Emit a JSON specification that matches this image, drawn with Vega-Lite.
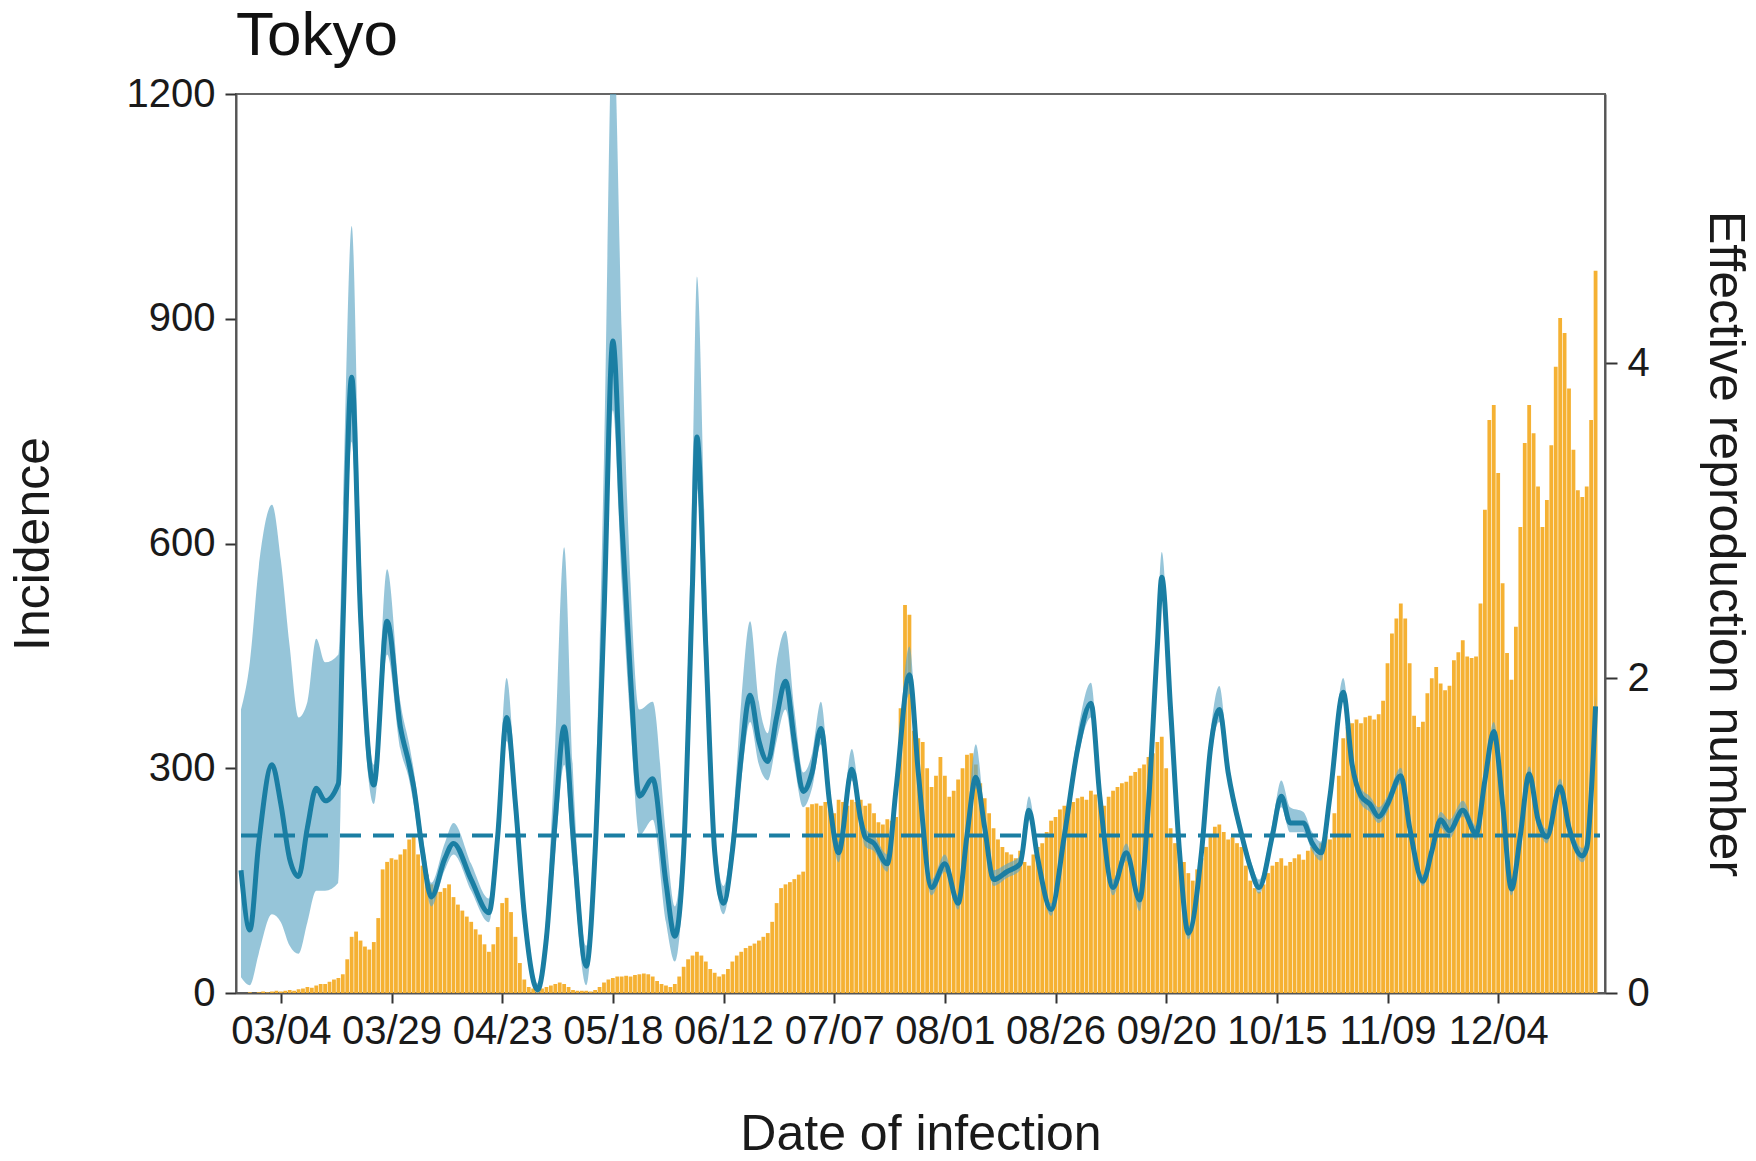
{
"$schema": "https://vega.github.io/schema/vega-lite/v6.json",
"width": 1369, "height": 899,
"autosize": {"type": "none"},
"padding": {"left": 236, "top": 94, "right": 151, "bottom": 168},
"background": "white",
"title": {"text": "Tokyo", "anchor": "start", "frame": "group", "fontSize": 62, "fontWeight": "normal", "font": "Liberation Sans", "color": "#111111", "baseline": "alphabetic", "offset": 14, "dy": 57},
"config": {
  "font": "Liberation Sans",
  "view": {"stroke": "#666666", "strokeWidth": 2},
  "axis": {"labelFont": "Liberation Sans", "titleFont": "Liberation Sans", "labelFontSize": 40, "titleFontSize": 50, "titleFontWeight": "normal", "labelColor": "#1a1a1a", "titleColor": "#1a1a1a", "domainColor": "#555555", "domainWidth": 2, "tickColor": "#333333", "tickWidth": 2, "grid": false, "labelOverlap": false, "labelFlush": false}
},
"datasets": {
"inc": [
{"date":"2020-02-24","cases":0},{"date":"2020-02-25","cases":0},{"date":"2020-02-26","cases":1},{"date":"2020-02-27","cases":0},{"date":"2020-02-28","cases":1},{"date":"2020-02-29","cases":2},
{"date":"2020-03-01","cases":1},{"date":"2020-03-02","cases":2},{"date":"2020-03-03","cases":3},{"date":"2020-03-04","cases":2},{"date":"2020-03-05","cases":3},{"date":"2020-03-06","cases":4},{"date":"2020-03-07","cases":3},{"date":"2020-03-08","cases":5},{"date":"2020-03-09","cases":6},{"date":"2020-03-10","cases":8},{"date":"2020-03-11","cases":7},{"date":"2020-03-12","cases":10},{"date":"2020-03-13","cases":12},{"date":"2020-03-14","cases":12},{"date":"2020-03-15","cases":15},{"date":"2020-03-16","cases":18},{"date":"2020-03-17","cases":20},{"date":"2020-03-18","cases":25},{"date":"2020-03-19","cases":45},{"date":"2020-03-20","cases":75},{"date":"2020-03-21","cases":82},{"date":"2020-03-22","cases":70},{"date":"2020-03-23","cases":62},{"date":"2020-03-24","cases":58},{"date":"2020-03-25","cases":68},{"date":"2020-03-26","cases":100},{"date":"2020-03-27","cases":165},{"date":"2020-03-28","cases":175},{"date":"2020-03-29","cases":180},{"date":"2020-03-30","cases":178},{"date":"2020-03-31","cases":185},
{"date":"2020-04-01","cases":192},{"date":"2020-04-02","cases":205},{"date":"2020-04-03","cases":210},{"date":"2020-04-04","cases":185},{"date":"2020-04-05","cases":170},{"date":"2020-04-06","cases":158},{"date":"2020-04-07","cases":145},{"date":"2020-04-08","cases":140},{"date":"2020-04-09","cases":135},{"date":"2020-04-10","cases":140},{"date":"2020-04-11","cases":145},{"date":"2020-04-12","cases":128},{"date":"2020-04-13","cases":118},{"date":"2020-04-14","cases":110},{"date":"2020-04-15","cases":102},{"date":"2020-04-16","cases":95},{"date":"2020-04-17","cases":85},{"date":"2020-04-18","cases":78},{"date":"2020-04-19","cases":65},{"date":"2020-04-20","cases":55},{"date":"2020-04-21","cases":65},{"date":"2020-04-22","cases":88},{"date":"2020-04-23","cases":120},{"date":"2020-04-24","cases":127},{"date":"2020-04-25","cases":108},{"date":"2020-04-26","cases":75},{"date":"2020-04-27","cases":40},{"date":"2020-04-28","cases":18},{"date":"2020-04-29","cases":8},{"date":"2020-04-30","cases":6},
{"date":"2020-05-01","cases":5},{"date":"2020-05-02","cases":6},{"date":"2020-05-03","cases":8},{"date":"2020-05-04","cases":10},{"date":"2020-05-05","cases":12},{"date":"2020-05-06","cases":14},{"date":"2020-05-07","cases":12},{"date":"2020-05-08","cases":8},{"date":"2020-05-09","cases":4},{"date":"2020-05-10","cases":3},{"date":"2020-05-11","cases":3},{"date":"2020-05-12","cases":3},{"date":"2020-05-13","cases":2},{"date":"2020-05-14","cases":4},{"date":"2020-05-15","cases":8},{"date":"2020-05-16","cases":14},{"date":"2020-05-17","cases":18},{"date":"2020-05-18","cases":20},{"date":"2020-05-19","cases":22},{"date":"2020-05-20","cases":22},{"date":"2020-05-21","cases":23},{"date":"2020-05-22","cases":22},{"date":"2020-05-23","cases":24},{"date":"2020-05-24","cases":25},{"date":"2020-05-25","cases":26},{"date":"2020-05-26","cases":25},{"date":"2020-05-27","cases":22},{"date":"2020-05-28","cases":16},{"date":"2020-05-29","cases":12},{"date":"2020-05-30","cases":10},{"date":"2020-05-31","cases":8},
{"date":"2020-06-01","cases":12},{"date":"2020-06-02","cases":22},{"date":"2020-06-03","cases":35},{"date":"2020-06-04","cases":45},{"date":"2020-06-05","cases":50},{"date":"2020-06-06","cases":55},{"date":"2020-06-07","cases":50},{"date":"2020-06-08","cases":42},{"date":"2020-06-09","cases":32},{"date":"2020-06-10","cases":27},{"date":"2020-06-11","cases":22},{"date":"2020-06-12","cases":25},{"date":"2020-06-13","cases":32},{"date":"2020-06-14","cases":42},{"date":"2020-06-15","cases":50},{"date":"2020-06-16","cases":55},{"date":"2020-06-17","cases":60},{"date":"2020-06-18","cases":63},{"date":"2020-06-19","cases":66},{"date":"2020-06-20","cases":70},{"date":"2020-06-21","cases":75},{"date":"2020-06-22","cases":80},{"date":"2020-06-23","cases":95},{"date":"2020-06-24","cases":120},{"date":"2020-06-25","cases":140},{"date":"2020-06-26","cases":145},{"date":"2020-06-27","cases":148},{"date":"2020-06-28","cases":152},{"date":"2020-06-29","cases":158},{"date":"2020-06-30","cases":162},
{"date":"2020-07-01","cases":248},{"date":"2020-07-02","cases":252},{"date":"2020-07-03","cases":253},{"date":"2020-07-04","cases":250},{"date":"2020-07-05","cases":255},{"date":"2020-07-06","cases":245},{"date":"2020-07-07","cases":240},{"date":"2020-07-08","cases":258},{"date":"2020-07-09","cases":255},{"date":"2020-07-10","cases":250},{"date":"2020-07-11","cases":258},{"date":"2020-07-12","cases":255},{"date":"2020-07-13","cases":258},{"date":"2020-07-14","cases":250},{"date":"2020-07-15","cases":253},{"date":"2020-07-16","cases":240},{"date":"2020-07-17","cases":228},{"date":"2020-07-18","cases":225},{"date":"2020-07-19","cases":232},{"date":"2020-07-20","cases":230},{"date":"2020-07-21","cases":235},{"date":"2020-07-22","cases":380},{"date":"2020-07-23","cases":518},{"date":"2020-07-24","cases":505},{"date":"2020-07-25","cases":350},{"date":"2020-07-26","cases":340},{"date":"2020-07-27","cases":335},{"date":"2020-07-28","cases":300},{"date":"2020-07-29","cases":275},{"date":"2020-07-30","cases":290},{"date":"2020-07-31","cases":315},
{"date":"2020-08-01","cases":290},{"date":"2020-08-02","cases":262},{"date":"2020-08-03","cases":270},{"date":"2020-08-04","cases":285},{"date":"2020-08-05","cases":300},{"date":"2020-08-06","cases":318},{"date":"2020-08-07","cases":320},{"date":"2020-08-08","cases":305},{"date":"2020-08-09","cases":280},{"date":"2020-08-10","cases":260},{"date":"2020-08-11","cases":240},{"date":"2020-08-12","cases":220},{"date":"2020-08-13","cases":205},{"date":"2020-08-14","cases":195},{"date":"2020-08-15","cases":188},{"date":"2020-08-16","cases":185},{"date":"2020-08-17","cases":180},{"date":"2020-08-18","cases":190},{"date":"2020-08-19","cases":175},{"date":"2020-08-20","cases":170},{"date":"2020-08-21","cases":185},{"date":"2020-08-22","cases":195},{"date":"2020-08-23","cases":200},{"date":"2020-08-24","cases":215},{"date":"2020-08-25","cases":230},{"date":"2020-08-26","cases":235},{"date":"2020-08-27","cases":245},{"date":"2020-08-28","cases":250},{"date":"2020-08-29","cases":248},{"date":"2020-08-30","cases":255},{"date":"2020-08-31","cases":260},
{"date":"2020-09-01","cases":262},{"date":"2020-09-02","cases":258},{"date":"2020-09-03","cases":270},{"date":"2020-09-04","cases":265},{"date":"2020-09-05","cases":258},{"date":"2020-09-06","cases":250},{"date":"2020-09-07","cases":262},{"date":"2020-09-08","cases":270},{"date":"2020-09-09","cases":275},{"date":"2020-09-10","cases":280},{"date":"2020-09-11","cases":282},{"date":"2020-09-12","cases":290},{"date":"2020-09-13","cases":295},{"date":"2020-09-14","cases":300},{"date":"2020-09-15","cases":305},{"date":"2020-09-16","cases":315},{"date":"2020-09-17","cases":320},{"date":"2020-09-18","cases":335},{"date":"2020-09-19","cases":342},{"date":"2020-09-20","cases":300},{"date":"2020-09-21","cases":220},{"date":"2020-09-22","cases":200},{"date":"2020-09-23","cases":190},{"date":"2020-09-24","cases":175},{"date":"2020-09-25","cases":160},{"date":"2020-09-26","cases":150},{"date":"2020-09-27","cases":165},{"date":"2020-09-28","cases":180},{"date":"2020-09-29","cases":195},{"date":"2020-09-30","cases":210},
{"date":"2020-10-01","cases":222},{"date":"2020-10-02","cases":225},{"date":"2020-10-03","cases":215},{"date":"2020-10-04","cases":205},{"date":"2020-10-05","cases":208},{"date":"2020-10-06","cases":200},{"date":"2020-10-07","cases":195},{"date":"2020-10-08","cases":170},{"date":"2020-10-09","cases":150},{"date":"2020-10-10","cases":140},{"date":"2020-10-11","cases":135},{"date":"2020-10-12","cases":145},{"date":"2020-10-13","cases":160},{"date":"2020-10-14","cases":170},{"date":"2020-10-15","cases":175},{"date":"2020-10-16","cases":180},{"date":"2020-10-17","cases":170},{"date":"2020-10-18","cases":175},{"date":"2020-10-19","cases":180},{"date":"2020-10-20","cases":185},{"date":"2020-10-21","cases":178},{"date":"2020-10-22","cases":190},{"date":"2020-10-23","cases":195},{"date":"2020-10-24","cases":185},{"date":"2020-10-25","cases":200},{"date":"2020-10-26","cases":210},{"date":"2020-10-27","cases":205},{"date":"2020-10-28","cases":240},{"date":"2020-10-29","cases":290},{"date":"2020-10-30","cases":340},{"date":"2020-10-31","cases":355},
{"date":"2020-11-01","cases":360},{"date":"2020-11-02","cases":365},{"date":"2020-11-03","cases":360},{"date":"2020-11-04","cases":368},{"date":"2020-11-05","cases":370},{"date":"2020-11-06","cases":365},{"date":"2020-11-07","cases":372},{"date":"2020-11-08","cases":390},{"date":"2020-11-09","cases":440},{"date":"2020-11-10","cases":480},{"date":"2020-11-11","cases":500},{"date":"2020-11-12","cases":520},{"date":"2020-11-13","cases":500},{"date":"2020-11-14","cases":440},{"date":"2020-11-15","cases":370},{"date":"2020-11-16","cases":355},{"date":"2020-11-17","cases":362},{"date":"2020-11-18","cases":400},{"date":"2020-11-19","cases":420},{"date":"2020-11-20","cases":435},{"date":"2020-11-21","cases":413},{"date":"2020-11-22","cases":404},{"date":"2020-11-23","cases":410},{"date":"2020-11-24","cases":444},{"date":"2020-11-25","cases":455},{"date":"2020-11-26","cases":471},{"date":"2020-11-27","cases":449},{"date":"2020-11-28","cases":447},{"date":"2020-11-29","cases":449},{"date":"2020-11-30","cases":520},
{"date":"2020-12-01","cases":645},{"date":"2020-12-02","cases":765},{"date":"2020-12-03","cases":785},{"date":"2020-12-04","cases":694},{"date":"2020-12-05","cases":547},{"date":"2020-12-06","cases":454},{"date":"2020-12-07","cases":418},{"date":"2020-12-08","cases":489},{"date":"2020-12-09","cases":622},{"date":"2020-12-10","cases":734},{"date":"2020-12-11","cases":785},{"date":"2020-12-12","cases":747},{"date":"2020-12-13","cases":676},{"date":"2020-12-14","cases":622},{"date":"2020-12-15","cases":658},{"date":"2020-12-16","cases":731},{"date":"2020-12-17","cases":836},{"date":"2020-12-18","cases":901},{"date":"2020-12-19","cases":881},{"date":"2020-12-20","cases":807},{"date":"2020-12-21","cases":725},{"date":"2020-12-22","cases":671},{"date":"2020-12-23","cases":662},{"date":"2020-12-24","cases":676},{"date":"2020-12-25","cases":765},{"date":"2020-12-26","cases":964}
],
"rt": [
{"date":"2020-02-24","r":0.78,"lo":0.10,"hi":1.80},{"date":"2020-02-26","r":0.40,"lo":0.05,"hi":2.10},{"date":"2020-02-28","r":0.95,"lo":0.25,"hi":2.70},{"date":"2020-03-02","r":1.45,"lo":0.50,"hi":3.10},{"date":"2020-03-04","r":1.20,"lo":0.45,"hi":2.75},{"date":"2020-03-06","r":0.85,"lo":0.30,"hi":2.20},{"date":"2020-03-08","r":0.74,"lo":0.25,"hi":1.75},{"date":"2020-03-10","r":1.05,"lo":0.45,"hi":1.85},{"date":"2020-03-12","r":1.30,"lo":0.65,"hi":2.25},{"date":"2020-03-14","r":1.22,"lo":0.65,"hi":2.10},{"date":"2020-03-17","r":1.33,"lo":0.70,"hi":2.15},{"date":"2020-03-18","r":2.30,"lo":1.90,"hi":3.00},{"date":"2020-03-20","r":3.91,"lo":3.50,"hi":4.87},{"date":"2020-03-22","r":2.40,"lo":2.10,"hi":2.80},{"date":"2020-03-25","r":1.32,"lo":1.20,"hi":1.45},{"date":"2020-03-28","r":2.36,"lo":2.15,"hi":2.69},{"date":"2020-03-31","r":1.69,"lo":1.55,"hi":1.85},
{"date":"2020-04-02","r":1.45,"lo":1.35,"hi":1.58},{"date":"2020-04-03","r":1.31,"lo":1.20,"hi":1.42},{"date":"2020-04-05","r":0.90,"lo":0.82,"hi":1.00},{"date":"2020-04-07","r":0.61,"lo":0.55,"hi":0.70},{"date":"2020-04-10","r":0.85,"lo":0.78,"hi":0.95},{"date":"2020-04-12","r":0.95,"lo":0.88,"hi":1.08},{"date":"2020-04-16","r":0.72,"lo":0.65,"hi":0.82},{"date":"2020-04-20","r":0.51,"lo":0.45,"hi":0.60},{"date":"2020-04-22","r":1.00,"lo":0.90,"hi":1.15},{"date":"2020-04-24","r":1.75,"lo":1.60,"hi":2.00},{"date":"2020-04-26","r":1.20,"lo":1.05,"hi":1.35},{"date":"2020-04-28","r":0.50,"lo":0.40,"hi":0.62},
{"date":"2020-05-01","r":0.02,"lo":0.00,"hi":0.06},{"date":"2020-05-03","r":0.35,"lo":0.25,"hi":0.50},{"date":"2020-05-05","r":1.10,"lo":0.90,"hi":1.60},{"date":"2020-05-07","r":1.69,"lo":1.45,"hi":2.83},{"date":"2020-05-09","r":1.00,"lo":0.80,"hi":1.40},{"date":"2020-05-12","r":0.17,"lo":0.05,"hi":0.30},{"date":"2020-05-14","r":0.90,"lo":0.75,"hi":1.20},{"date":"2020-05-16","r":2.40,"lo":2.10,"hi":3.40},{"date":"2020-05-18","r":4.14,"lo":3.70,"hi":6.20},{"date":"2020-05-20","r":3.00,"lo":2.60,"hi":4.20},{"date":"2020-05-22","r":2.00,"lo":1.70,"hi":2.60},{"date":"2020-05-24","r":1.25,"lo":1.00,"hi":1.80},{"date":"2020-05-27","r":1.36,"lo":1.10,"hi":1.85},{"date":"2020-05-30","r":0.70,"lo":0.45,"hi":1.00},
{"date":"2020-06-01","r":0.36,"lo":0.20,"hi":0.55},{"date":"2020-06-03","r":0.90,"lo":0.75,"hi":1.15},{"date":"2020-06-05","r":2.60,"lo":2.35,"hi":3.30},{"date":"2020-06-06","r":3.53,"lo":3.20,"hi":4.55},{"date":"2020-06-08","r":2.20,"lo":2.00,"hi":2.70},{"date":"2020-06-10","r":0.90,"lo":0.80,"hi":1.05},{"date":"2020-06-12","r":0.57,"lo":0.50,"hi":0.68},{"date":"2020-06-14","r":0.90,"lo":0.80,"hi":1.05},{"date":"2020-06-16","r":1.50,"lo":1.35,"hi":1.85},{"date":"2020-06-18","r":1.89,"lo":1.72,"hi":2.36},{"date":"2020-06-20","r":1.60,"lo":1.45,"hi":1.85},{"date":"2020-06-22","r":1.47,"lo":1.35,"hi":1.65},{"date":"2020-06-24","r":1.75,"lo":1.60,"hi":2.10},{"date":"2020-06-26","r":1.98,"lo":1.80,"hi":2.30},{"date":"2020-06-28","r":1.60,"lo":1.45,"hi":1.80},{"date":"2020-06-30","r":1.28,"lo":1.18,"hi":1.40},
{"date":"2020-07-02","r":1.40,"lo":1.30,"hi":1.52},{"date":"2020-07-04","r":1.68,"lo":1.58,"hi":1.85},{"date":"2020-07-06","r":1.20,"lo":1.12,"hi":1.30},{"date":"2020-07-08","r":0.89,"lo":0.83,"hi":0.96},{"date":"2020-07-11","r":1.42,"lo":1.35,"hi":1.55},{"date":"2020-07-13","r":1.10,"lo":1.05,"hi":1.17},{"date":"2020-07-14","r":0.99,"lo":0.93,"hi":1.05},{"date":"2020-07-16","r":0.95,"lo":0.90,"hi":1.00},{"date":"2020-07-19","r":0.82,"lo":0.77,"hi":0.88},{"date":"2020-07-21","r":1.30,"lo":1.22,"hi":1.40},{"date":"2020-07-24","r":2.02,"lo":1.90,"hi":2.20},{"date":"2020-07-26","r":1.40,"lo":1.30,"hi":1.50},{"date":"2020-07-29","r":0.67,"lo":0.62,"hi":0.72},
{"date":"2020-08-01","r":0.82,"lo":0.77,"hi":0.88},{"date":"2020-08-04","r":0.57,"lo":0.53,"hi":0.62},{"date":"2020-08-06","r":1.00,"lo":0.95,"hi":1.08},{"date":"2020-08-08","r":1.37,"lo":1.30,"hi":1.58},{"date":"2020-08-10","r":1.05,"lo":1.00,"hi":1.12},{"date":"2020-08-12","r":0.72,"lo":0.68,"hi":0.78},{"date":"2020-08-15","r":0.77,"lo":0.73,"hi":0.82},{"date":"2020-08-18","r":0.82,"lo":0.78,"hi":0.87},{"date":"2020-08-20","r":1.16,"lo":1.10,"hi":1.25},{"date":"2020-08-22","r":0.85,"lo":0.80,"hi":0.90},{"date":"2020-08-25","r":0.53,"lo":0.49,"hi":0.57},{"date":"2020-08-28","r":1.00,"lo":0.95,"hi":1.05},{"date":"2020-08-31","r":1.55,"lo":1.48,"hi":1.65},
{"date":"2020-09-03","r":1.84,"lo":1.75,"hi":1.97},{"date":"2020-09-05","r":1.25,"lo":1.18,"hi":1.32},{"date":"2020-09-08","r":0.67,"lo":0.62,"hi":0.72},{"date":"2020-09-11","r":0.89,"lo":0.84,"hi":0.95},{"date":"2020-09-14","r":0.59,"lo":0.52,"hi":0.63},{"date":"2020-09-16","r":1.20,"lo":1.12,"hi":1.28},{"date":"2020-09-18","r":2.20,"lo":2.10,"hi":2.35},{"date":"2020-09-19","r":2.64,"lo":2.52,"hi":2.80},{"date":"2020-09-21","r":1.80,"lo":1.70,"hi":1.90},{"date":"2020-09-23","r":0.90,"lo":0.85,"hi":0.96},{"date":"2020-09-25","r":0.38,"lo":0.34,"hi":0.42},{"date":"2020-09-28","r":0.90,"lo":0.85,"hi":0.96},{"date":"2020-09-30","r":1.55,"lo":1.48,"hi":1.65},
{"date":"2020-10-02","r":1.80,"lo":1.72,"hi":1.95},{"date":"2020-10-04","r":1.40,"lo":1.34,"hi":1.48},{"date":"2020-10-07","r":1.01,"lo":0.96,"hi":1.06},{"date":"2020-10-09","r":0.80,"lo":0.76,"hi":0.85},{"date":"2020-10-11","r":0.67,"lo":0.63,"hi":0.72},{"date":"2020-10-14","r":1.00,"lo":0.95,"hi":1.08},{"date":"2020-10-16","r":1.25,"lo":1.18,"hi":1.35},{"date":"2020-10-18","r":1.08,"lo":1.02,"hi":1.18},{"date":"2020-10-21","r":1.08,"lo":1.02,"hi":1.15},{"date":"2020-10-23","r":0.95,"lo":0.90,"hi":1.02},{"date":"2020-10-25","r":0.89,"lo":0.84,"hi":0.96},{"date":"2020-10-27","r":1.25,"lo":1.20,"hi":1.32},{"date":"2020-10-30","r":1.91,"lo":1.85,"hi":2.00},
{"date":"2020-11-01","r":1.45,"lo":1.40,"hi":1.52},{"date":"2020-11-03","r":1.25,"lo":1.20,"hi":1.30},{"date":"2020-11-05","r":1.20,"lo":1.15,"hi":1.25},{"date":"2020-11-07","r":1.12,"lo":1.08,"hi":1.18},{"date":"2020-11-09","r":1.20,"lo":1.15,"hi":1.25},{"date":"2020-11-12","r":1.38,"lo":1.33,"hi":1.43},{"date":"2020-11-14","r":1.05,"lo":1.00,"hi":1.10},{"date":"2020-11-17","r":0.71,"lo":0.68,"hi":0.75},{"date":"2020-11-19","r":0.90,"lo":0.86,"hi":0.95},{"date":"2020-11-21","r":1.10,"lo":1.05,"hi":1.15},{"date":"2020-11-23","r":1.03,"lo":0.98,"hi":1.10},{"date":"2020-11-26","r":1.16,"lo":1.12,"hi":1.22},{"date":"2020-11-29","r":1.01,"lo":0.97,"hi":1.06},
{"date":"2020-12-01","r":1.35,"lo":1.30,"hi":1.40},{"date":"2020-12-03","r":1.66,"lo":1.60,"hi":1.72},{"date":"2020-12-05","r":1.20,"lo":1.15,"hi":1.25},{"date":"2020-12-07","r":0.66,"lo":0.62,"hi":0.70},{"date":"2020-12-09","r":1.00,"lo":0.96,"hi":1.05},{"date":"2020-12-11","r":1.39,"lo":1.34,"hi":1.44},{"date":"2020-12-13","r":1.10,"lo":1.06,"hi":1.15},{"date":"2020-12-15","r":0.99,"lo":0.95,"hi":1.04},{"date":"2020-12-18","r":1.31,"lo":1.26,"hi":1.36},{"date":"2020-12-20","r":1.05,"lo":1.01,"hi":1.10},{"date":"2020-12-23","r":0.87,"lo":0.83,"hi":0.92},{"date":"2020-12-24","r":0.92,"lo":0.88,"hi":0.97},{"date":"2020-12-26","r":1.82,"lo":1.75,"hi":1.90}
],
"ref": [{"date":"2020-02-24","end":"2020-12-27","level":1}]
},
"encoding": {
  "x": {"field": "date", "type": "temporal",
    "scale": {"type": "utc", "domain": [{"year": 2020, "month": 2, "date": 24, "utc": true}, {"year": 2020, "month": 12, "date": 27, "utc": true}]},
    "axis": {"title": "Date of infection", "format": "%m/%d", "tickSize": 10, "labelPadding": 8, "titlePadding": 58,
      "values": [{"year":2020,"month":3,"date":4,"utc":true},{"year":2020,"month":3,"date":29,"utc":true},{"year":2020,"month":4,"date":23,"utc":true},{"year":2020,"month":5,"date":18,"utc":true},{"year":2020,"month":6,"date":12,"utc":true},{"year":2020,"month":7,"date":7,"utc":true},{"year":2020,"month":8,"date":1,"utc":true},{"year":2020,"month":8,"date":26,"utc":true},{"year":2020,"month":9,"date":20,"utc":true},{"year":2020,"month":10,"date":15,"utc":true},{"year":2020,"month":11,"date":9,"utc":true},{"year":2020,"month":12,"date":4,"utc":true}]}}
},
"layer": [
  {
    "data": {"name": "inc"},
    "mark": {"type": "bar", "color": "#F5B133", "size": 3.8, "clip": true},
    "encoding": {
      "y": {"field": "cases", "type": "quantitative",
        "scale": {"domain": [0, 1200], "nice": false},
        "axis": {"title": "Incidence", "format": "d", "values": [0, 300, 600, 900, 1200], "tickSize": 11, "labelPadding": 10, "titlePadding": 68, "orient": "left"}}
    }
  },
  {
    "layer": [
      {
        "data": {"name": "rt"},
        "mark": {"type": "area", "color": "#5EA6C4", "opacity": 0.65, "interpolate": "monotone", "clip": true},
        "encoding": {
          "y": {"field": "lo", "type": "quantitative", "scale": {"domain": [0, 5.708], "nice": false},
            "axis": {"title": "Effective reproduction number", "orient": "right", "values": [0, 2, 4], "tickSize": 12, "labelPadding": 10, "titlePadding": 50}},
          "y2": {"field": "hi"}
        }
      },
      {
        "data": {"name": "ref"},
        "mark": {"type": "rule", "color": "#1A7EA3", "strokeWidth": 4, "strokeDash": [21, 12]},
        "encoding": {
          "x2": {"field": "end"},
          "y": {"field": "level", "type": "quantitative", "scale": {"domain": [0, 5.708], "nice": false},
            "axis": {"title": "Effective reproduction number", "orient": "right", "values": [0, 2, 4], "tickSize": 12, "labelPadding": 10, "titlePadding": 50}}
        }
      },
      {
        "data": {"name": "rt"},
        "mark": {"type": "line", "color": "#1A7EA3", "strokeWidth": 5, "interpolate": "monotone", "clip": true},
        "encoding": {
          "y": {"field": "r", "type": "quantitative", "scale": {"domain": [0, 5.708], "nice": false},
            "axis": {"title": "Effective reproduction number", "orient": "right", "values": [0, 2, 4], "tickSize": 12, "labelPadding": 10, "titlePadding": 50}}
        }
      }
    ]
  }
],
"resolve": {"scale": {"y": "independent"}}
}
